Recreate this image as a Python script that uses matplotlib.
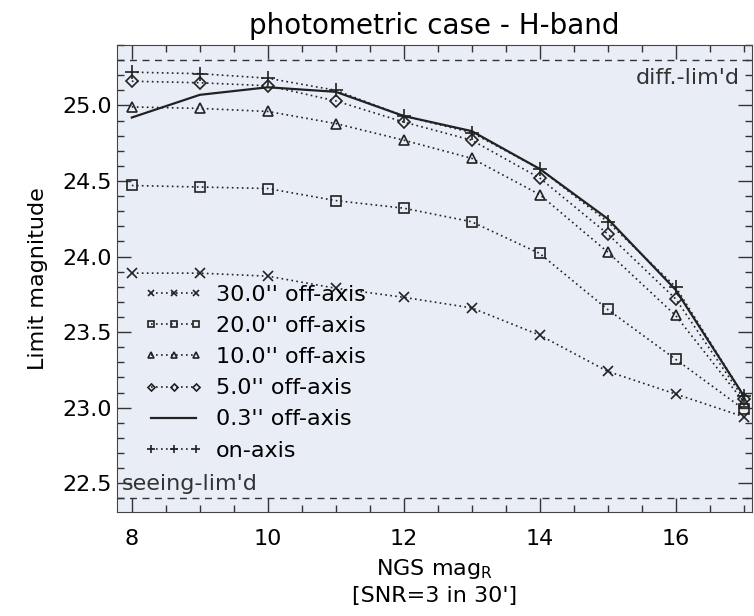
import matplotlib
matplotlib.use('Agg')
import matplotlib.pyplot as plt
from matplotlib.ticker import MultipleLocator

# NGS magnitude (R band)
ngs_mag = [8, 9, 10, 11, 12, 13, 14, 15, 16, 17]

# limit magnitude for each off-axis distance
off30 = [23.89, 23.89, 23.87, 23.79, 23.73, 23.66, 23.48, 23.24, 23.09, 22.94]
off20 = [24.47, 24.46, 24.45, 24.37, 24.32, 24.23, 24.02, 23.65, 23.32, 22.99]
off10 = [24.99, 24.98, 24.96, 24.88, 24.77, 24.65, 24.41, 24.03, 23.61, 23.04]
off5 = [25.16, 25.15, 25.13, 25.03, 24.89, 24.77, 24.52, 24.15, 23.72, 23.06]
off03 = [24.92, 25.07, 25.12, 25.09, 24.93, 24.83, 24.58, 24.25, 23.78, 23.08]
onaxis = [25.22, 25.21, 25.18, 25.10, 24.93, 24.82, 24.58, 24.23, 23.80, 23.08]

diff_lim = 25.3
seeing_lim = 22.4

plt.rcParams['font.family'] = ['DejaVu Sans']

fig = plt.figure(figsize=(7.54, 6.16), dpi=100)
ax = fig.add_axes([0.155, 0.169, 0.842, 0.758])
ax.set_facecolor('#e9edf6')

k = dict(color='#222222', lw=1.2, ls=(0, (1, 2)), markersize=7, mew=1.2)
ax.plot(ngs_mag, off30, marker='x', label="30.0'' off-axis", **k)
ax.plot(ngs_mag, off20, marker='s', mfc='none', label="20.0'' off-axis", **k)
ax.plot(ngs_mag, off10, marker='^', mfc='none', label="10.0'' off-axis", **k)
ax.plot(ngs_mag, off5, marker='D', mfc='none', label="5.0'' off-axis",
        **{**k, 'markersize': 6})
ax.plot(ngs_mag, off03, color='#222222', lw=1.6, label="0.3'' off-axis")
ax.plot(ngs_mag, onaxis, marker='+', label="on-axis", **{**k, 'markersize': 10})

ax.axhline(diff_lim, color='#333333', lw=1, ls=(0, (5, 4)))
ax.axhline(seeing_lim, color='#333333', lw=1, ls=(0, (5, 4)))
ax.text(16.95, 25.25, "diff.-lim'd", ha='right', va='top', fontsize=16, color='#333333')
ax.text(7.85, 22.43, "seeing-lim'd", ha='left', va='bottom', fontsize=16, color='#333333')

ax.set_xlim(7.78, 17.12)
ax.set_ylim(22.31, 25.4)
ax.xaxis.set_major_locator(MultipleLocator(2))
ax.xaxis.set_minor_locator(MultipleLocator(0.5))
ax.yaxis.set_major_locator(MultipleLocator(0.5))
ax.yaxis.set_minor_locator(MultipleLocator(0.1))
ax.tick_params(which='both', direction='in', top=True, right=True, labelsize=16,
               color='#333333')
ax.tick_params(which='major', length=10, width=1)
ax.tick_params(which='minor', length=5, width=1)
ax.tick_params(axis='x', pad=12)
for s in ax.spines.values():
    s.set_color('#444444')

ax.set_title('photometric case - H-band', fontsize=20, pad=8)
ax.set_ylabel('Limit magnitude', fontsize=16, labelpad=10)
ax.set_xlabel("NGS mag$_\\mathregular{R}$\n[SNR=3 in 30']", fontsize=16, labelpad=6,
              linespacing=1.3)

ax.legend(loc='upper left', bbox_to_anchor=(0.03, 0.505), frameon=False, numpoints=3,
          handlelength=2.6, handletextpad=0.6, labelspacing=0.5, fontsize=16,
          markerscale=0.6, borderaxespad=0)

fig.savefig('out.png', dpi=100)
